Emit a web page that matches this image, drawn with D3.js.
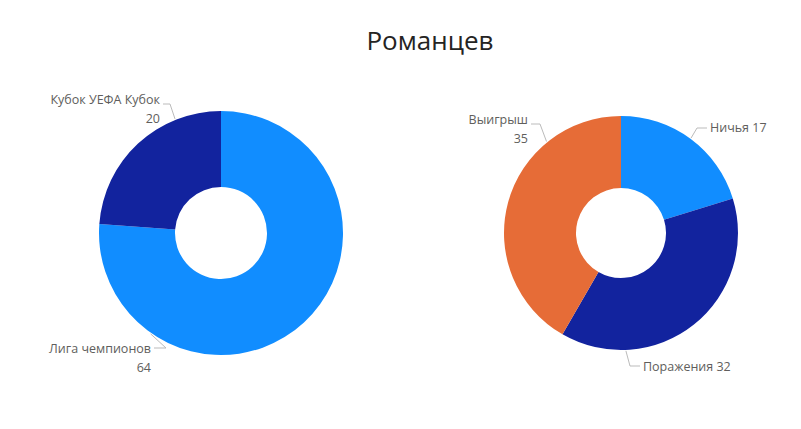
<!DOCTYPE html><html><head><meta charset="utf-8"><script src="https://cdn.jsdelivr.net/npm/d3@7"></script>
<style>body{margin:0;background:#fff}text{font-family:"Open Sans",sans-serif}</style></head><body><svg width="801" height="429"></svg>
<script>
const leftCats=["Лига чемпионов","Кубок УЕФА  Кубок"];
const leftVals=[64,20];
const rightCats=["Ничья","Поражения","Выигрыш"];
const rightVals=[17,32,35];
const colorsL=["#118DFF","#12239E"];
const colorsR=["#118DFF","#12239E","#E66C37"];
const svg=d3.select("svg");
svg.append("text").attr("x",430).attr("y",50).attr("text-anchor","middle").attr("font-size",26).attr("fill","#252423").text("Романцев");
function donut(cx,cy,ro,ri,cats,vals,cols,labels){
  const pie=d3.pie().sort(null)(vals);
  const arc=d3.arc().innerRadius(ri).outerRadius(ro);
  const g=svg.append("g").attr("transform",`translate(${cx},${cy})`);
  g.selectAll("path").data(pie).join("path").attr("d",arc).attr("fill",(d,i)=>cols[i]);
  labels.forEach((L,i)=>{
    const a=pie[i];const m=(a.startAngle+a.endAngle)/2;
    const ang=L.ang!==undefined?L.ang:m;
    const p0=[Math.sin(ang)*(ro+1),-Math.cos(ang)*(ro+1)];
    const p1=[L.bx-cx,L.by-cy];
    const p2=[L.tx-cx+(L.anchor==="end"?3:-3),L.by-cy];
    g.append("polyline").attr("points",[p0,p1,p2].map(p=>p.join(",")).join(" ")).attr("fill","none").attr("stroke","#bbb");
    L.lines.forEach((t,k)=>svg.append("text").attr("x",L.tx).attr("y",L.ty+k*19).attr("text-anchor",L.anchor).attr("font-size",12.5).attr("fill","#605E5C").text(t));
  });
}
donut(221,233,122,46,leftCats,leftVals,colorsL,[
 {bx:166,by:348,tx:151,ty:353,anchor:"end",ang:3.75,lines:[leftCats[0],String(leftVals[0])]},
 {bx:170,by:104,tx:160,ty:104,anchor:"end",ang:5.9,lines:[leftCats[1],String(leftVals[1])]}
]);
donut(621,233,117,45,rightCats,rightVals,colorsR,[
 {bx:697,by:128,tx:710,ty:132,anchor:"start",lines:[rightCats[0]+" "+rightVals[0]]},
 {bx:630,by:366,tx:643,ty:371,anchor:"start",ang:3.1,lines:[rightCats[1]+" "+rightVals[1]]},
 {bx:540,by:124,tx:528,ty:124,anchor:"end",ang:5.6,lines:[rightCats[2],String(rightVals[2])]}
]);
</script></body></html>
